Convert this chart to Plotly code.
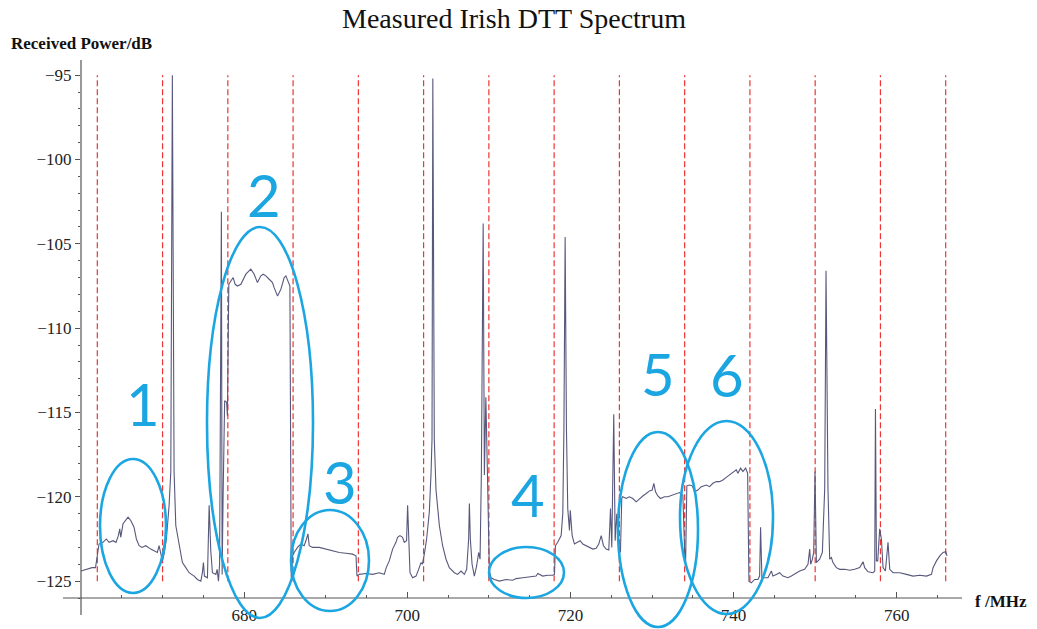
import plotly.graph_objects as go

# ---------------- data ----------------
freq_mhz = [
    660.00, 660.74, 661.35, 661.78, 661.88, 662.21, 662.70, 663.10, 663.44, 663.93,
    664.29, 664.58, 664.75, 664.87, 665.15, 665.48, 665.77, 666.10, 666.50, 666.79,
    667.12, 667.48, 667.94, 668.55, 668.96, 669.36, 669.57, 669.78, 669.98, 670.18,
    670.47, 670.80, 671.01, 671.20, 671.41, 671.62, 671.82, 672.02, 672.43, 672.85,
    673.25, 673.87, 674.27, 674.69, 674.88, 675.01, 675.13, 675.50, 675.71, 675.91,
    676.11, 676.53, 676.69, 676.85, 676.99, 677.21, 677.30, 677.42, 677.61, 677.85,
    677.95, 678.12, 678.37, 678.65, 678.90, 679.18, 679.60, 680.21, 680.82, 681.23,
    681.63, 682.05, 682.33, 682.66, 683.07, 683.47, 683.68, 684.09, 684.50, 684.91,
    685.12, 685.40, 685.61, 685.77, 685.95, 686.13, 686.54, 686.96, 687.36, 687.64,
    687.82, 687.98, 688.38, 689.20, 690.02, 690.83, 691.66, 692.48, 693.29, 693.71,
    693.83, 694.11, 694.93, 695.74, 696.56, 697.18, 697.42, 697.79, 698.20, 698.61,
    698.81, 699.10, 699.42, 699.63, 699.91, 700.04, 700.16, 700.33, 700.65, 701.07,
    701.39, 701.68, 701.84, 702.09, 702.37, 702.70, 702.91, 703.03, 703.13, 703.31,
    703.52, 703.93, 704.33, 704.75, 705.15, 705.77, 706.17, 706.59, 706.99, 707.28,
    707.52, 707.61, 707.73, 707.94, 708.22, 708.50, 708.75, 708.92, 709.08, 709.30,
    709.45, 709.63, 709.82, 710.06, 710.27, 710.67, 711.29, 712.11, 712.92, 713.34,
    714.15, 714.97, 715.79, 716.00, 716.60, 717.21, 717.83, 718.04, 718.16, 718.44,
    718.86, 719.06, 719.20, 719.35, 719.51, 719.67, 719.88, 719.98, 720.21, 720.49,
    720.90, 721.19, 721.51, 721.93, 722.33, 722.74, 723.15, 723.47, 723.77, 724.05,
    724.38, 724.70, 724.91, 725.07, 725.31, 725.48, 725.68, 725.89, 726.13, 726.29,
    726.42, 726.83, 727.24, 727.64, 728.06, 728.47, 728.87, 729.29, 729.69, 730.02,
    730.22, 730.43, 730.71, 731.04, 731.53, 731.94, 732.55, 732.97, 733.37, 733.58,
    733.78, 733.99, 734.11, 734.27, 734.60, 734.93, 735.21, 735.62, 736.04, 736.65,
    737.06, 737.46, 737.88, 738.28, 738.69, 739.10, 739.51, 739.91, 740.33, 740.53,
    740.86, 741.14, 741.47, 741.72, 741.88, 742.17, 742.58, 742.98, 743.19, 743.31,
    743.47, 743.80, 744.21, 744.63, 744.82, 745.24, 745.64, 746.05, 746.66, 747.08,
    747.48, 748.10, 748.71, 749.12, 749.33, 749.45, 749.66, 749.82, 749.98, 750.15,
    750.55, 750.88, 751.17, 751.33, 751.57, 751.78, 751.99, 752.18, 752.60, 753.01,
    753.62, 754.23, 754.85, 755.46, 755.87, 756.07, 756.48, 757.09, 757.30, 757.39,
    757.51, 757.67, 757.91, 758.12, 758.32, 758.61, 758.93, 759.14, 759.55, 759.96,
    760.37, 761.19, 762.00, 762.82, 763.64, 764.26, 764.45, 764.87, 765.28, 765.68,
    766.01, 766.17,
]

power_db = [
    -124.4, -124.3, -124.2, -124.2, -123.9, -122.8, -122.7, -122.5, -122.7, -122.6,
    -122.7, -122.3, -121.9, -122.4, -121.6, -121.4, -121.2, -121.4, -121.8, -122.5,
    -122.9, -123.0, -122.9, -123.1, -123.2, -123.3, -122.9, -123.3, -123.8, -123.4,
    -122.5, -120.5, -118.5, -95.0, -118.5, -121.7, -122.2, -122.9, -123.9, -124.2,
    -124.5, -124.7, -124.9, -125.0, -124.5, -123.9, -124.7, -124.8, -120.5, -123.2,
    -124.5, -124.6, -124.3, -125.0, -124.0, -103.1, -124.6, -120.0, -114.3, -114.4,
    -115.2, -107.4, -107.2, -107.0, -107.4, -107.5, -107.4, -106.8, -106.5, -106.8,
    -107.3, -106.9, -106.8, -106.9, -107.1, -107.3, -107.6, -108.1, -107.7, -107.0,
    -106.9, -107.3, -107.5, -124.8, -123.5, -123.3, -123.0, -122.8, -122.9, -122.5,
    -122.2, -122.9, -123.0, -123.0, -123.1, -123.2, -123.3, -123.35, -123.4, -123.5,
    -124.7, -124.6, -124.55, -124.6, -124.5, -124.6, -124.2, -123.8, -123.1, -122.7,
    -122.4, -122.3, -122.4, -122.7, -122.6, -120.5, -122.6, -124.5, -124.8, -124.7,
    -124.3, -123.9, -124.0, -123.4, -122.5, -120.9, -118.6, -116.6, -95.2, -116.6,
    -119.6, -121.7, -122.9, -123.7, -124.2, -124.5, -124.6, -124.4, -124.6, -124.3,
    -122.5, -120.4, -122.5, -124.0, -124.7, -124.1, -123.3, -123.7, -118.6, -103.8,
    -118.7, -114.1, -118.5, -124.4, -124.8, -124.9, -125.0, -124.9, -124.95, -124.85,
    -124.8, -124.75, -124.7, -124.55, -124.7, -124.65, -124.65, -124.6, -122.9, -122.7,
    -122.3, -121.0, -116.0, -104.6, -116.0, -120.7, -122.0, -120.8, -122.3, -122.8,
    -122.7, -122.6, -122.8, -122.9, -123.0, -123.1, -123.05, -122.8, -122.3, -122.9,
    -123.1, -123.15, -120.7, -123.0, -115.1, -122.6, -121.0, -122.9, -123.3, -120.1,
    -120.0, -120.1, -120.0, -120.1, -120.3, -120.1, -119.95, -119.8, -119.65, -119.6,
    -119.2, -119.7, -119.95, -120.1, -120.0, -120.0, -119.9, -119.85, -119.75, -119.85,
    -119.9, -123.1, -124.1, -119.35, -119.3, -119.35, -119.7, -119.6, -119.4, -119.3,
    -119.4, -119.2, -119.1, -119.1, -119.0, -118.85, -118.7, -118.55, -118.4, -118.6,
    -118.3, -118.5, -118.3, -118.6, -125.0, -125.1, -124.9, -124.9, -124.7, -121.8,
    -124.8, -124.8, -124.8, -124.4, -124.7, -124.6, -124.5, -124.7, -124.8, -124.7,
    -124.6, -124.4, -124.3, -124.0, -123.1, -124.0, -123.7, -123.3, -118.5, -123.9,
    -123.7, -123.3, -119.5, -106.6, -119.5, -123.7, -123.6, -123.9, -124.2, -124.3,
    -124.3, -124.35, -124.3, -124.2, -123.85, -124.2, -124.45, -124.5, -124.4, -114.8,
    -123.8, -123.8, -121.9, -122.5, -124.2, -124.4, -122.7, -124.3, -124.5, -124.5,
    -124.5, -124.6, -124.7, -124.65, -124.7, -124.6, -124.2, -123.8, -123.5, -123.3,
    -123.25, -123.5,
]

channel_edges_mhz = [662, 670, 678, 686, 694, 702, 710, 718, 726, 734, 742, 750, 758, 766]
marker_low_db = -125
marker_high_db = -95

x_tick_vals = [680, 700, 720, 740, 760]
y_tick_vals = [-125, -120, -115, -110, -105, -100, -95]

region_labels = ["1", "2", "3", "4", "5", "6"]

# ---------------- layout constants ----------------
W, H = 1037, 629
M_L, M_R, M_T, M_B = 81, 75, 60, 31
X_RANGE = [660, 768]
Y_RANGE = [-126, -94.1]
PLOT_W = W - M_L - M_R
PLOT_H = H - M_T - M_B


def pxx(px):
    return (px - M_L) / PLOT_W


def pxy(py):
    return (H - M_B - py) / PLOT_H


SERIF = "Liberation Serif, Times New Roman, serif"
BLUE = "#1ba6e2"

# ellipse boxes in screen pixels (x0, x1, y0, y1) and label centres
ellipse_boxes = [
    (100, 166, 459, 593),
    (207, 313, 227, 618),
    (291, 369, 510, 611),
    (489, 564, 547, 598),
    (618, 698, 432, 627),
    (680, 773, 421, 614),
]
label_centres = [(143, 403), (264, 194), (340, 481), (528, 494), (658, 373), (727, 375)]

fig = go.Figure()

# channel edge markers
cx, cy = [], []
for f in channel_edges_mhz:
    cx += [f, f, None]
    cy += [marker_low_db, marker_high_db, None]
fig.add_trace(go.Scatter(
    x=cx, y=cy, mode="lines",
    line=dict(color="#ee3535", width=1.2, dash="6px,3px"),
    hoverinfo="skip", showlegend=False,
))

# spectrum
fig.add_trace(go.Scatter(
    x=freq_mhz, y=power_db, mode="lines",
    line=dict(color="#58587c", width=1.1),
    showlegend=False,
))

shapes = []
# axes lines (extend slightly past origin like the original)
shapes.append(dict(type="line", xref="paper", yref="paper",
                   x0=pxx(63), x1=1, y0=0, y1=0,
                   line=dict(color="#555555", width=1.2)))
shapes.append(dict(type="line", xref="paper", yref="paper",
                   x0=0, x1=0, y0=pxy(615), y1=1,
                   line=dict(color="#555555", width=1.2)))
for (x0, x1, y0, y1) in ellipse_boxes:
    shapes.append(dict(type="circle", xref="paper", yref="paper",
                       x0=pxx(x0), x1=pxx(x1), y0=pxy(y1), y1=pxy(y0),
                       line=dict(color=BLUE, width=2.6)))

annotations = []
for lab, (lx, ly) in zip(region_labels, label_centres):
    annotations.append(dict(
        text=lab, xref="paper", yref="paper", x=pxx(lx), y=pxy(ly),
        xanchor="center", yanchor="middle", showarrow=False,
        font=dict(family="Lato, Roboto, sans-serif", size=58, color=BLUE, weight=400),
    ))
annotations.append(dict(
    text="<b>Received Power/dB</b>", xref="paper", yref="paper",
    x=pxx(9), y=pxy(44), xanchor="left", yanchor="middle", showarrow=False,
    font=dict(family=SERIF, size=17, color="#111111"),
))
annotations.append(dict(
    text="<b>f /MHz</b>", xref="paper", yref="paper",
    x=pxx(973), y=pxy(601), xanchor="left", yanchor="middle", showarrow=False,
    font=dict(family=SERIF, size=17, color="#111111"),
))

fig.update_layout(
    width=W, height=H,
    margin=dict(l=M_L, r=M_R, t=M_T, b=M_B),
    paper_bgcolor="white", plot_bgcolor="white",
    title=dict(text="Measured Irish DTT Spectrum", xref="container", yref="container",
               x=514 / W, y=1 - 18 / H, xanchor="center", yanchor="middle",
               font=dict(family=SERIF, size=28, color="#111111")),
    shapes=shapes,
    annotations=annotations,
    xaxis=dict(range=X_RANGE, showgrid=False, zeroline=False, showline=False,
               automargin=False,
               tickvals=x_tick_vals, ticks="inside", ticklen=6, tickwidth=1,
               tickcolor="#555555", ticklabelstandoff=5,
               minor=dict(dtick=5, tick0=660, ticks="inside", ticklen=3.5, tickcolor="#555555"),
               tickfont=dict(family=SERIF, size=17, color="#222222")),
    yaxis=dict(range=Y_RANGE, showgrid=False, zeroline=False, showline=False,
               automargin=False,
               tickvals=y_tick_vals, ticks="outside", ticklen=5, tickwidth=1,
               tickcolor="#555555",
               minor=dict(dtick=1, tick0=-126, ticks="outside", ticklen=2.5, tickcolor="#555555"),
               tickfont=dict(family=SERIF, size=17, color="#222222")),
)

fig.write_html("out.html", config={"displayModeBar": False},
               post_script="document.body.style.margin='0';")
